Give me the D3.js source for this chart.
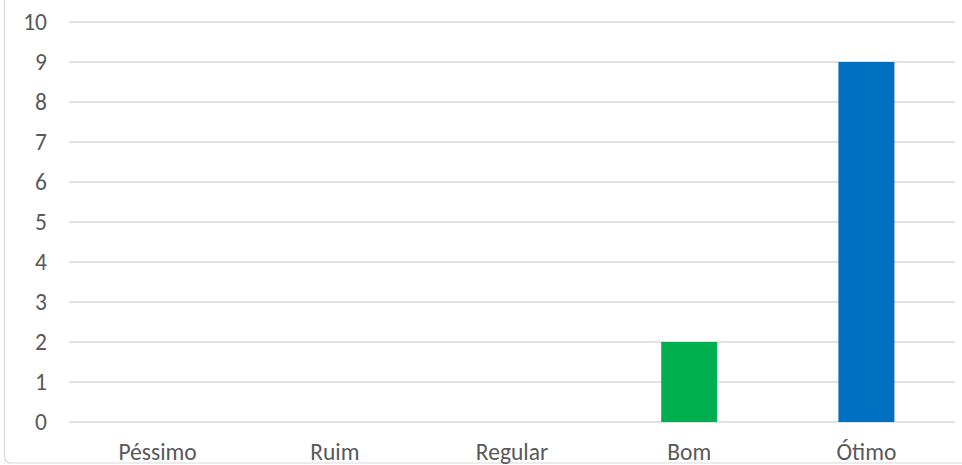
<!DOCTYPE html>
<html lang="pt">
<head>
  <meta charset="UTF-8">
  <title>Avaliação</title>
  <style>
    body { margin: 0; background: #fff; }
    svg text { font-family: Carlito, "Open Sans", "Liberation Sans", sans-serif; fill: #595959; }
  </style>
</head>
<body>
  <script src="https://cdn.jsdelivr.net/npm/d3@7/dist/d3.min.js"></script>
  <script>
// dados
const categorias = ['Péssimo', 'Ruim', 'Regular', 'Bom', 'Ótimo'];
const valores = [0, 0, 0, 2, 9];
const cores = ['#4472c4', '#ed7d31', '#a5a5a5', '#00b050', '#0070c0'];
const ticksY = [0, 1, 2, 3, 4, 5, 6, 7, 8, 9, 10];

const width = 962;
const height = 465;
const margin = { top: 22, right: 7, bottom: 43, left: 69 };
const innerWidth = width - margin.left - margin.right;
const innerHeight = height - margin.top - margin.bottom;
const fonte = '23.5px';

const svg = d3.select('body')
  .append('svg')
  .attr('width', width)
  .attr('height', height);

// moldura (cortada no topo e à direita)
svg.append('rect')
  .attr('x', 4.5)
  .attr('y', -20)
  .attr('width', width + 20)
  .attr('height', 483)
  .attr('rx', 6)
  .attr('fill', 'none')
  .attr('stroke', '#d9d9d9')
  .attr('stroke-width', 1.2);

const g = svg.append('g')
  .attr('transform', `translate(${margin.left}, ${margin.top})`);

const xScale = d3.scaleBand()
  .domain(categorias)
  .range([0, innerWidth])
  .paddingInner(0.684)
  .paddingOuter(0.342);

const yScale = d3.scaleLinear()
  .domain([0, 10])
  .range([innerHeight, 0]);

// linhas de grade
g.selectAll('.grid')
  .data(ticksY)
  .enter()
  .append('line')
  .attr('class', 'grid')
  .attr('x1', 0)
  .attr('x2', innerWidth)
  .attr('y1', d => yScale(d))
  .attr('y2', d => yScale(d))
  .attr('stroke', '#d9d9d9')
  .attr('stroke-width', 1.5);

// eixo y
const yAxis = d3.axisLeft(yScale).tickValues(ticksY).tickSize(0).tickPadding(22);
const gy = g.append('g').call(yAxis);
gy.select('.domain').remove();
gy.selectAll('text').style('font-size', fonte).attr('fill', null);

// eixo x
const xAxis = d3.axisBottom(xScale).tickSize(0).tickPadding(21.5);
const gx = g.append('g')
  .attr('transform', `translate(0, ${innerHeight})`)
  .call(xAxis);
gx.select('.domain').remove();
gx.selectAll('text').style('font-size', fonte).attr('fill', null);

// barras
g.selectAll('.bar')
  .data(valores)
  .enter()
  .append('rect')
  .attr('class', 'bar')
  .attr('x', (d, i) => xScale(categorias[i]))
  .attr('width', xScale.bandwidth())
  .attr('y', d => yScale(d))
  .attr('height', d => innerHeight - yScale(d))
  .attr('fill', (d, i) => cores[i]);
  </script>
</body>
</html>
